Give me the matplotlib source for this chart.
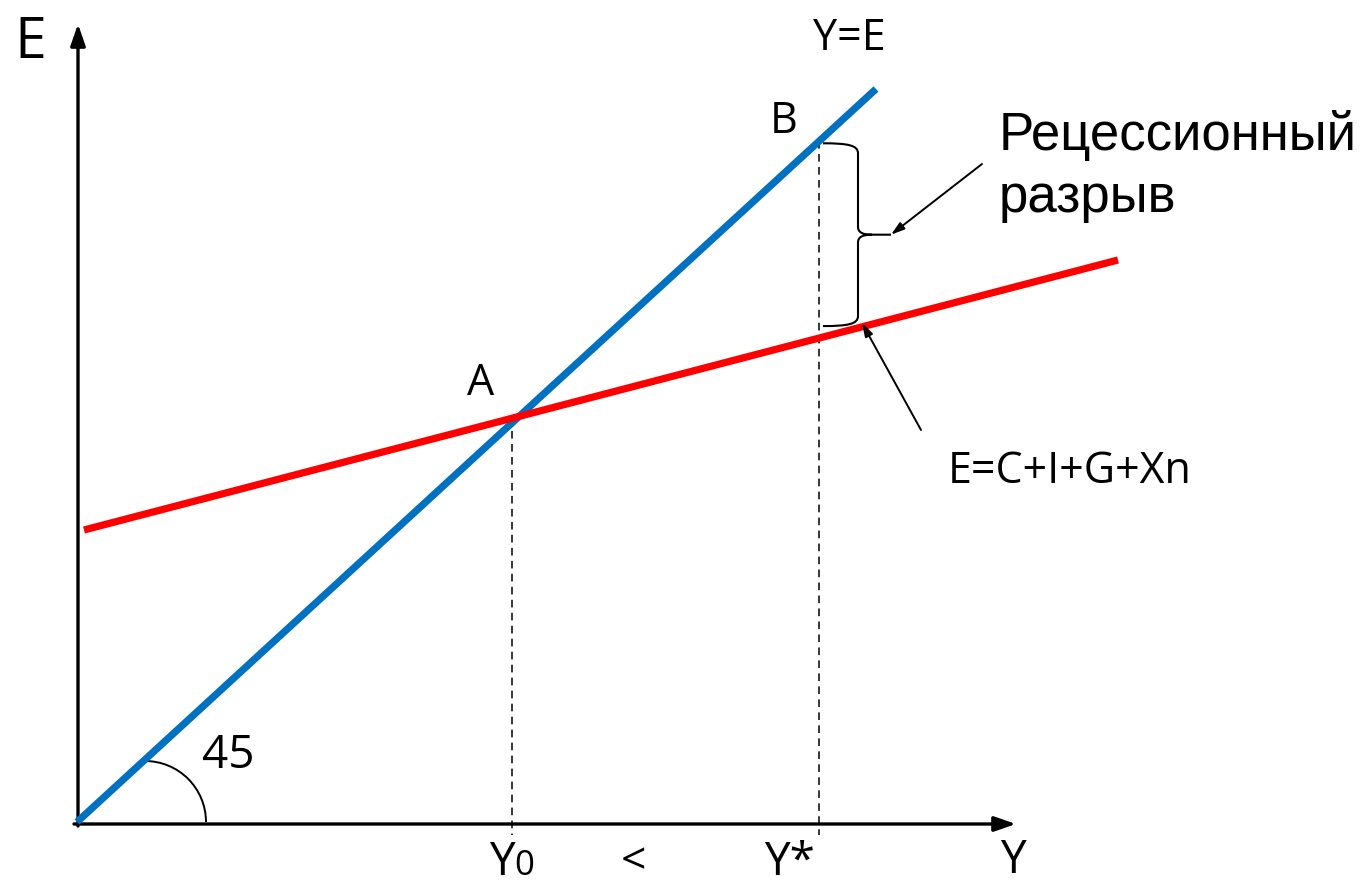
import matplotlib
matplotlib.use("Agg")
import matplotlib.pyplot as plt
from matplotlib.patches import Arc, PathPatch
from matplotlib.path import Path
import numpy as np

plt.rcParams['font.family'] = ['Open Sans', 'DejaVu Sans']

# ---- data (income units; origin at 0) ----
line45_x = [0, 799]          # Y = E line
line45_slope = 733 / 799
ae_x = [7, 1041]             # E = C+I+G+Xn
ae_y = [292, 562]
y0_value = 435               # equilibrium income Y0
ystar_value = 742            # potential income Y*

line45_y = [x * line45_slope for x in line45_x]

def ae_at(x):
    return ae_y[0] + (ae_y[1] - ae_y[0]) * (x - ae_x[0]) / (ae_x[1] - ae_x[0])

def p(px, py):
    # layout helper: pixel position -> data coordinates
    return (px - 77, 822 - py)

fig = plt.figure(figsize=(13.69, 8.85), dpi=100)
ax = fig.add_axes([0, 0, 1, 1])
ax.set_xlim(-77, 1292)
ax.set_ylim(-63, 822)
ax.axis('off')

# axes with arrows
ax.annotate('', xy=p(1016, 824), xytext=p(74, 824),
            arrowprops=dict(arrowstyle='-|>,head_length=1.3,head_width=0.45',
                            color='black', lw=2.4, shrinkA=0, shrinkB=0))
ax.annotate('', xy=p(78, 24), xytext=p(78, 826),
            arrowprops=dict(arrowstyle='-|>,head_length=1.3,head_width=0.45',
                            color='black', lw=2.4, shrinkA=0, shrinkB=0))

# dashed guides
y0_e = ae_at(y0_value)
ax.plot([y0_value, y0_value], [y0_e, -13], ls=(0, (5, 3.5)), color='black', lw=1.1)
ys_top = ystar_value * line45_slope
ax.plot([ystar_value, ystar_value], [ys_top, -13], ls=(0, (5, 3.5)), color='black', lw=1.1)

# lines
ax.plot(line45_x, line45_y, color='#0070C0', lw=5.2, solid_capstyle='butt', zorder=3)
ax.plot(ae_x, ae_y, color='#FF0000', lw=5.2, solid_capstyle='butt', zorder=3)

# 45 degree arc
ax.add_patch(Arc(p(145, 822), 122, 122, theta1=0, theta2=90, color='black', lw=1.4))

# brace
bx0 = ystar_value + 4
top = ys_top - 2
bot = ae_at(ystar_value) + 12
mid = (top + bot) / 2
bx1 = bx0 + 35
tip = bx0 + 68
verts = [
    (bx0, top),
    (bx0 + 25, top), (bx1, top - 2), (bx1, top - 10),
    (bx1, mid + 8),
    (bx1, mid + 2), (bx1 + 5, mid), (bx1 + 14, mid),
    (tip, mid),
    (bx1 + 14, mid),
    (bx1 + 5, mid), (bx1, mid - 2), (bx1, mid - 8),
    (bx1, bot + 10),
    (bx1, bot + 2), (bx0 + 25, bot), (bx0, bot),
]
codes = [Path.MOVETO,
         Path.CURVE4, Path.CURVE4, Path.CURVE4,
         Path.LINETO,
         Path.CURVE4, Path.CURVE4, Path.CURVE4,
         Path.LINETO,
         Path.MOVETO,
         Path.CURVE4, Path.CURVE4, Path.CURVE4,
         Path.LINETO,
         Path.CURVE4, Path.CURVE4, Path.CURVE4]
ax.add_patch(PathPatch(Path(verts, codes), fill=False, color='black', lw=1.5))

# annotation arrows
ax.annotate('', xy=(tip, mid), xytext=p(982, 164),
            arrowprops=dict(arrowstyle='-|>,head_length=0.8,head_width=0.25',
                            color='black', lw=1.4, shrinkA=0, shrinkB=0))
ax.annotate('', xy=p(862, 323), xytext=p(921, 430),
            arrowprops=dict(arrowstyle='-|>,head_length=0.8,head_width=0.25',
                            color='black', lw=1.4, shrinkA=0, shrinkB=0))

# texts
arial = ['Liberation Sans', 'DejaVu Sans']
ax.text(*p(999, 150), 'Рецессионный', fontsize=38, ha='left', va='baseline', family=arial)
ax.text(*p(999, 212), 'разрыв', fontsize=38, ha='left', va='baseline', family=arial)
ax.text(*p(1070, 483), 'E=C+I+G+Xn', fontsize=31, ha='center', va='baseline')
ax.text(*p(849, 50), 'Y=E', fontsize=31, ha='center', va='baseline')
ax.text(*p(784, 133), 'B', fontsize=31, ha='center', va='baseline')
ax.text(*p(481, 395), 'A', fontsize=31, ha='center', va='baseline')
ax.text(*p(228, 768), '45', fontsize=33, ha='center', va='baseline')
ax.text(*p(30, 58), 'E', fontsize=41, ha='center', va='baseline')
ax.text(*p(1013, 873), 'Y', fontsize=33, ha='center', va='baseline')
ax.text(*p(633, 863), '<', fontsize=32, ha='center', va='center')
ax.text(*p(790, 875), 'Y*', fontsize=33, ha='center', va='baseline')
ax.text(*p(502, 875), 'Y', fontsize=33, ha='center', va='baseline')
ax.text(*p(524, 875), '0', fontsize=25, ha='center', va='baseline')

fig.savefig('out.png', dpi=100)
